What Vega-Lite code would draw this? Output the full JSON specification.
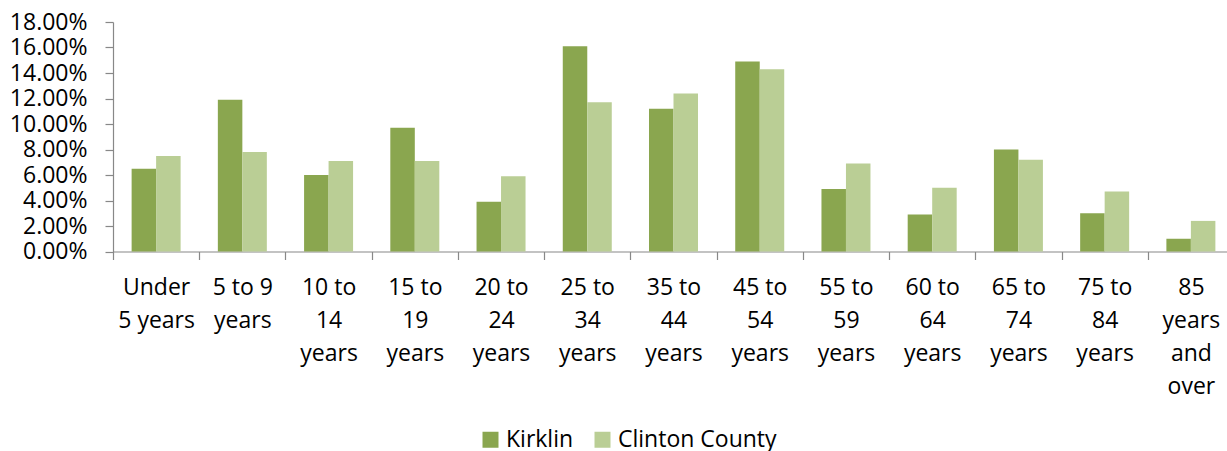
{
  "$schema": "https://vega.github.io/schema/vega-lite/v6.json",
  "width": 1121,
  "height": 229.5,
  "autosize": {"type": "none"},
  "padding": {"left": 113, "top": 22, "right": 0, "bottom": 199.5},
  "background": "white",
  "data": {
    "values": [
      {"age": "Under 5 years", "area": "Kirklin", "share": 0.065},
      {"age": "Under 5 years", "area": "Clinton County", "share": 0.075},
      {"age": "5 to 9 years", "area": "Kirklin", "share": 0.119},
      {"age": "5 to 9 years", "area": "Clinton County", "share": 0.078},
      {"age": "10 to 14 years", "area": "Kirklin", "share": 0.060},
      {"age": "10 to 14 years", "area": "Clinton County", "share": 0.071},
      {"age": "15 to 19 years", "area": "Kirklin", "share": 0.097},
      {"age": "15 to 19 years", "area": "Clinton County", "share": 0.071},
      {"age": "20 to 24 years", "area": "Kirklin", "share": 0.039},
      {"age": "20 to 24 years", "area": "Clinton County", "share": 0.059},
      {"age": "25 to 34 years", "area": "Kirklin", "share": 0.161},
      {"age": "25 to 34 years", "area": "Clinton County", "share": 0.117},
      {"age": "35 to 44 years", "area": "Kirklin", "share": 0.112},
      {"age": "35 to 44 years", "area": "Clinton County", "share": 0.124},
      {"age": "45 to 54 years", "area": "Kirklin", "share": 0.149},
      {"age": "45 to 54 years", "area": "Clinton County", "share": 0.143},
      {"age": "55 to 59 years", "area": "Kirklin", "share": 0.049},
      {"age": "55 to 59 years", "area": "Clinton County", "share": 0.069},
      {"age": "60 to 64 years", "area": "Kirklin", "share": 0.029},
      {"age": "60 to 64 years", "area": "Clinton County", "share": 0.050},
      {"age": "65 to 74 years", "area": "Kirklin", "share": 0.080},
      {"age": "65 to 74 years", "area": "Clinton County", "share": 0.072},
      {"age": "75 to 84 years", "area": "Kirklin", "share": 0.030},
      {"age": "75 to 84 years", "area": "Clinton County", "share": 0.047},
      {"age": "85 years and over", "area": "Kirklin", "share": 0.010},
      {"age": "85 years and over", "area": "Clinton County", "share": 0.024}
    ]
  },
  "mark": {"type": "bar"},
  "encoding": {
    "x": {
      "field": "age",
      "type": "nominal",
      "sort": null,
      "scale": {"paddingInner": 0, "paddingOuter": 0},
      "axis": {
        "title": null,
        "labelAngle": 0,
        "tickBand": "extent",
        "tickSize": 8,
        "labelPadding": 17,
        "labelLineHeight": 33,
        "labelExpr": "{'Under 5 years': ['Under', '5 years'], '5 to 9 years': ['5 to 9', 'years'], '10 to 14 years': ['10 to', '14', 'years'], '15 to 19 years': ['15 to', '19', 'years'], '20 to 24 years': ['20 to', '24', 'years'], '25 to 34 years': ['25 to', '34', 'years'], '35 to 44 years': ['35 to', '44', 'years'], '45 to 54 years': ['45 to', '54', 'years'], '55 to 59 years': ['55 to', '59', 'years'], '60 to 64 years': ['60 to', '64', 'years'], '65 to 74 years': ['65 to', '74', 'years'], '75 to 84 years': ['75 to', '84', 'years'], '85 years and over': ['85', 'years', 'and', 'over']}[datum.value]"
      }
    },
    "xOffset": {
      "field": "area",
      "type": "nominal",
      "sort": ["Kirklin", "Clinton County"],
      "scale": {"paddingInner": 0, "paddingOuter": 0.76}
    },
    "y": {
      "field": "share",
      "type": "quantitative",
      "scale": {"domain": [0, 0.18], "nice": false},
      "axis": {
        "title": null,
        "grid": false,
        "format": ".2%",
        "values": [0, 0.02, 0.04, 0.06, 0.08, 0.1, 0.12, 0.14, 0.16, 0.18],
        "tickSize": 8,
        "labelPadding": 18
      }
    },
    "color": {
      "field": "area",
      "type": "nominal",
      "sort": ["Kirklin", "Clinton County"],
      "scale": {"domain": ["Kirklin", "Clinton County"], "range": ["#8AA64F", "#BACE95"]},
      "legend": {
        "title": null,
        "orient": "none",
        "direction": "horizontal",
        "legendX": 366,
        "legendY": 406,
        "symbolType": "square",
        "symbolSize": 256,
        "symbolStrokeWidth": 0,
        "labelOffset": 4,
        "columnPadding": 17,
        "padding": 0
      }
    }
  },
  "config": {
    "view": {"stroke": null},
    "font": "Open Sans",
    "axis": {
      "labelFont": "Open Sans",
      "labelFontSize": 23,
      "labelColor": "#000000",
      "domainColor": "#888888",
      "tickColor": "#888888",
      "domainWidth": 1.2,
      "tickWidth": 1.2
    },
    "legend": {
      "labelFont": "Open Sans",
      "labelFontSize": 23,
      "labelColor": "#000000"
    }
  }
}
